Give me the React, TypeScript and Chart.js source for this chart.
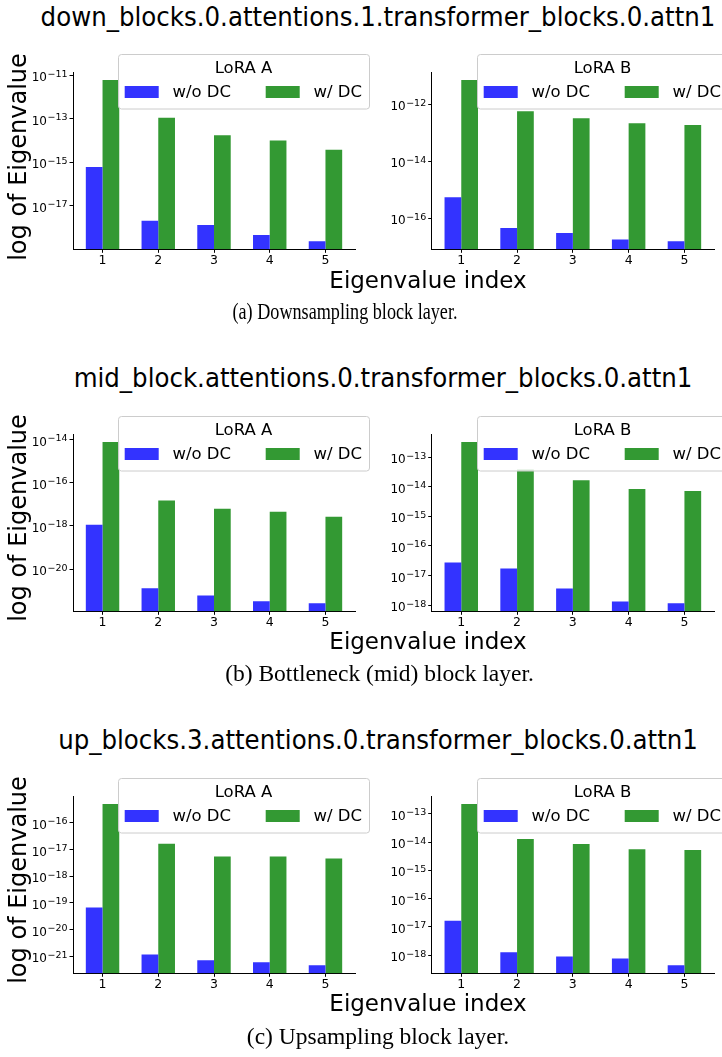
import React, { useEffect, useRef } from 'react';
import { Chart, registerables } from 'chart.js';
Chart.register(...registerables);

// ---------- data ----------
const categories = ['1', '2', '3', '4', '5'];
const indexValues = [1, 2, 3, 4, 5];
const seriesLabels = ['w/o DC', 'w/ DC'];
const seriesColors = ['#3333ff', '#339933'];

const layerTitles = [
  'down_blocks.0.attentions.1.transformer_blocks.0.attn1',
  'mid_block.attentions.0.transformer_blocks.0.attn1',
  'up_blocks.3.attentions.0.transformer_blocks.0.attn1',
];
const captions = [
  '(a) Downsampling block layer.',
  '(b) Bottleneck (mid) block layer.',
  '(c) Upsampling block layer.',
];
const panelTitles = ['LoRA A', 'LoRA B'];
const xAxisLabel = 'Eigenvalue index';
const yAxisLabel = 'log of Eigenvalue';

const downA_woDC = [6.0e-16, 2.0e-18, 1.3e-18, 4.5e-19, 2.3e-19];
const downA_wDC = [5.9e-12, 1.1e-13, 1.7e-14, 9.8e-15, 3.7e-15];
const downB_woDC = [5.5e-16, 4.5e-17, 3.0e-17, 1.8e-17, 1.55e-17];
const downB_wDC = [7.2e-12, 5.8e-13, 3.3e-13, 2.2e-13, 1.9e-13];
const midA_woDC = [1.15e-18, 1.3e-21, 6.0e-22, 3.2e-22, 2.6e-22];
const midA_wDC = [7.8e-15, 1.5e-17, 6.3e-18, 4.6e-18, 2.7e-18];
const midB_woDC = [2.75e-17, 1.74e-17, 3.7e-18, 1.35e-18, 1.17e-18];
const midB_wDC = [3.2e-13, 3.8e-14, 1.66e-14, 8.3e-15, 7.2e-15];
const upA_woDC = [6.8e-20, 1.17e-21, 7.1e-22, 6.0e-22, 4.6e-22];
const upA_wDC = [5.1e-16, 1.66e-17, 5.5e-18, 5.5e-18, 4.6e-18];
const upB_woDC = [1.66e-17, 1.26e-18, 8.9e-19, 7.6e-19, 4.4e-19];
const upB_wDC = [2.2e-13, 1.29e-14, 8.5e-15, 5.6e-15, 5.2e-15];

// y tick exponents (labels 10^e)
const downA_ticks = [-11, -13, -15, -17];
const downB_ticks = [-12, -14, -16];
const midA_ticks = [-14, -16, -18, -20];
const midB_ticks = [-13, -14, -15, -16, -17, -18];
const upA_ticks = [-16, -17, -18, -19, -20, -21];
const upB_ticks = [-13, -14, -15, -16, -17, -18];

const rows = [
  { A: [downA_woDC, downA_wDC, downA_ticks], B: [downB_woDC, downB_wDC, downB_ticks] },
  { A: [midA_woDC, midA_wDC, midA_ticks], B: [midB_woDC, midB_wDC, midB_ticks] },
  { A: [upA_woDC, upA_wDC, upA_ticks], B: [upB_woDC, upB_wDC, upB_ticks] },
];

// ---------- layout constants ----------
const FONT = "'DejaVu Sans', sans-serif";
const SERIF = "'Liberation Serif', 'Times New Roman', serif";
const rowOffsets = [0, 361.5, 723.5];
const BAR_W = 0.3;

const drawPlugin = {
  id: 'lora',
  afterDraw(chart: any, _args: any, opts: any) {
    const ctx = chart.ctx;
    const { left, right, top, bottom } = chart.chartArea;
    const ys = chart.scales.y;
    const xs = chart.scales.x;
    ctx.save();
    ctx.fillStyle = '#000';
    // y tick labels 10^e
    ys.ticks.forEach((t: any) => {
      const py = ys.getPixelForValue(t.value);
      const e = Math.round(Math.log10(t.value));
      const expStr = (e < 0 ? '\u2212' : '') + Math.abs(e);
      ctx.textAlign = 'right';
      ctx.textBaseline = 'alphabetic';
      ctx.font = `9.5px ${FONT}`;
      const ew = ctx.measureText(expStr).width;
      const xr = left - 5.5;
      ctx.fillText(expStr, xr, py + 1.5);
      ctx.font = `12px ${FONT}`;
      ctx.fillText('10', xr - ew - 0.5, py + 6);
    });
    // x tick labels
    ctx.font = `12.5px ${FONT}`;
    ctx.textAlign = 'center';
    ctx.textBaseline = 'alphabetic';
    xs.ticks.forEach((t: any, i: number) => {
      const px = xs.getPixelForValue(t.value);
      ctx.fillText(categories[i], px, bottom + 15);
    });
    // legend
    const W = 251, H = 54.5;
    const L = right + 14 - W, T = top - 18;
    ctx.beginPath();
    (ctx as any).roundRect(L + 0.5, T + 0.5, W, H, 3);
    ctx.fillStyle = 'rgba(255,255,255,0.8)';
    ctx.fill();
    ctx.strokeStyle = '#cccccc';
    ctx.lineWidth = 1;
    ctx.stroke();
    ctx.fillStyle = '#000';
    ctx.font = `16.5px ${FONT}`;
    ctx.textAlign = 'center';
    ctx.fillText(opts.title, L + W / 2, T + 19.3);
    ctx.textAlign = 'left';
    const entryX = [L + 6.7, L + 147.7];
    seriesLabels.forEach((lab, i) => {
      ctx.fillStyle = seriesColors[i];
      ctx.fillRect(entryX[i], T + 32, 34, 12);
      ctx.fillStyle = '#000';
      ctx.fillText(lab, entryX[i] + 47.7, T + 43.3);
    });
    ctx.restore();
  },
};

type PanelProps = { woDC: number[]; wDC: number[]; ticks: number[]; title: string; side: number; rowOff: number };

function Panel({ woDC, wDC, ticks, title, side, rowOff }: PanelProps) {
  const ref = useRef<HTMLCanvasElement>(null);
  const canvasLeft = side === 0 ? 0 : 370;
  const canvasW = side === 0 ? 370 : 352;
  const canvasTop = 40 + rowOff;
  const canvasH = 240;
  const plotLeft = side === 0 ? 73 : 431.7;
  const plotRight = side === 0 ? 355 : 714;
  const plotTop = 72 + rowOff;
  const plotBottom = 249.3 + rowOff;

  useEffect(() => {
    const all = [...woDC, ...wDC];
    const lo = Math.log10(Math.min(...all));
    const hi = Math.log10(Math.max(...all));
    const m = 0.05 * (hi - lo);
    const xLo = indexValues[0] - BAR_W;
    const xHi = indexValues[indexValues.length - 1] + BAR_W;
    const xm = 0.05 * (xHi - xLo);
    const gridOpts = { drawOnChartArea: false, drawTicks: true, tickLength: 3.5, tickColor: '#000', tickWidth: 1, offset: false };
    const borderOpts = { display: true, color: '#000', width: 1 };
    const chart = new Chart(ref.current!, {
      type: 'bar',
      data: {
        datasets: [woDC, wDC].map((vals, i) => ({
          label: seriesLabels[i],
          data: indexValues.map((x, j) => ({ x, y: vals[j] })),
          backgroundColor: seriesColors[i],
          borderWidth: 0,
          categoryPercentage: BAR_W * 2,
          barPercentage: 1.0,
        })),
      },
      options: {
        responsive: false,
        animation: false,
        devicePixelRatio: 1,
        layout: { padding: { top: plotTop - canvasTop, left: 0, right: canvasLeft + canvasW - plotRight, bottom: 0 } },
        plugins: { legend: { display: false }, tooltip: { enabled: false }, lora: { title } } as any,
        scales: {
          x: {
            type: 'linear',
            min: xLo - xm,
            max: xHi + xm,
            offset: false,
            bounds: 'data',
            grid: gridOpts,
            border: borderOpts,
            ticks: { display: false },
            afterBuildTicks: (s: any) => { s.ticks = indexValues.map((v) => ({ value: v })); },
            afterFit: (s: any) => { s.height = canvasTop + canvasH - plotBottom; },
          },
          y: {
            type: 'logarithmic',
            min: Math.pow(10, lo - m),
            max: Math.pow(10, hi + m),
            bounds: 'data',
            grid: gridOpts,
            border: borderOpts,
            ticks: { display: false },
            afterBuildTicks: (s: any) => { s.ticks = ticks.map((e) => ({ value: Math.pow(10, e) })); },
            afterFit: (s: any) => { s.width = plotLeft - canvasLeft; },
          },
        } as any,
      },
      plugins: [drawPlugin],
    } as any);
    return () => chart.destroy();
  }, []);

  return (
    <canvas
      ref={ref}
      width={canvasW}
      height={canvasH}
      style={{ position: 'absolute', left: canvasLeft, top: canvasTop, width: canvasW, height: canvasH }}
    />
  );
}

function Txt({ text, cx, baseline, size, family, asc, desc, sx, sy }: any) {
  const lh = size;
  const bOff = (lh - (asc + desc) * size) / 2 + asc * size;
  const top = baseline - bOff;
  return (
    <div
      style={{
        position: 'absolute',
        left: cx - 400,
        width: 800,
        top,
        height: lh,
        lineHeight: `${lh}px`,
        fontSize: size,
        fontFamily: family,
        textAlign: 'center',
        whiteSpace: 'nowrap',
        color: '#000',
        transform: `scale(${sx || 1}, ${sy || 1})`,
        transformOrigin: `50% ${bOff}px`,
      }}
    >
      {text}
    </div>
  );
}

export default function App() {
  useEffect(() => {
    document.body.style.margin = '0';
  }, []);
  const titleCx = [378, 383, 378];
  const capCx = [345, 379.5, 378];
  const capBase = [319, 682, 1045];
  const capSize = [23, 23.5, 23.5];
  const capSx = [0.79, 1, 1];
  return (
    <div style={{ position: 'absolute', left: 0, top: 0, width: 722, height: 1057, overflow: 'hidden', background: '#fff' }}>
      {rows.map((r, ri) => {
        const off = rowOffsets[ri];
        return (
          <React.Fragment key={ri}>
            <Txt text={layerTitles[ri]} cx={titleCx[ri]} baseline={26.5 + off} size={24.5} family={FONT} asc={0.928} desc={0.236} sy={1.08} />
            <Panel woDC={r.A[0]} wDC={r.A[1]} ticks={r.A[2]} title={panelTitles[0]} side={0} rowOff={off} />
            <Panel woDC={r.B[0]} wDC={r.B[1]} ticks={r.B[2]} title={panelTitles[1]} side={1} rowOff={off} />
            <Txt text={xAxisLabel} cx={428} baseline={288.3 + off} size={23} family={FONT} asc={0.928} desc={0.236} />
            <div
              style={{
                position: 'absolute',
                left: 18.2 - 150,
                top: 156.7 + off - 12,
                width: 300,
                height: 24,
                lineHeight: '24px',
                fontSize: 24,
                fontFamily: FONT,
                textAlign: 'center',
                whiteSpace: 'nowrap',
                transform: 'rotate(-90deg)',
                transformOrigin: '50% 50%',
              }}
            >
              {yAxisLabel}
            </div>
            <Txt text={captions[ri]} cx={capCx[ri]} baseline={capBase[ri]} size={capSize[ri]} family={SERIF} asc={0.891} desc={0.216} sx={capSx[ri]} />
          </React.Fragment>
        );
      })}
    </div>
  );
}
